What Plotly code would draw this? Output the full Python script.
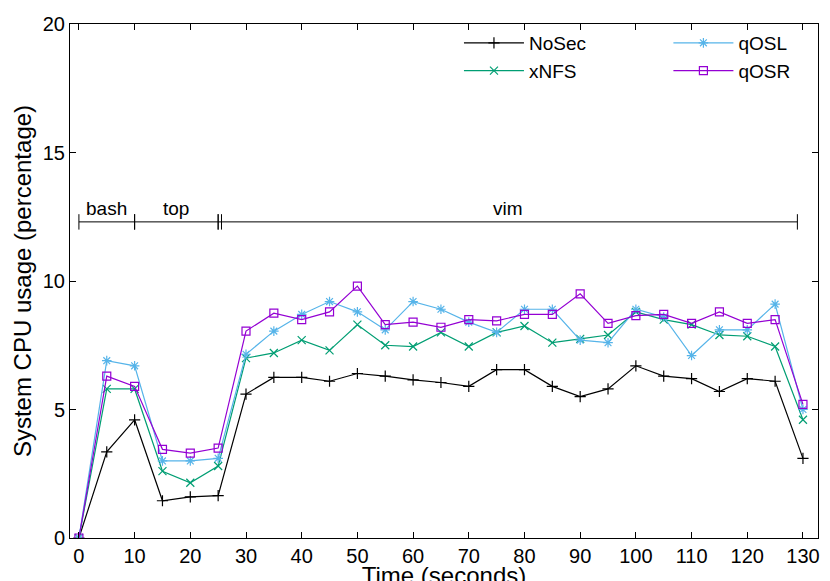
import plotly.graph_objects as go

time = list(range(0, 131, 5))
nosec = [0, 3.35, 4.6, 1.45, 1.6, 1.65, 5.6, 6.25, 6.25, 6.1, 6.4, 6.3, 6.15, 6.05, 5.9, 6.55, 6.55, 5.9, 5.5, 5.8, 6.7, 6.3, 6.2, 5.7, 6.2, 6.1, 3.1]
xnfs = [0, 5.8, 5.8, 2.6, 2.15, 2.8, 7.0, 7.2, 7.7, 7.3, 8.3, 7.5, 7.45, 8.0, 7.45, 8.0, 8.25, 7.6, 7.75, 7.9, 8.8, 8.5, 8.3, 7.9, 7.85, 7.45, 4.6]
qosl = [0, 6.9, 6.7, 3.0, 3.0, 3.1, 7.15, 8.05, 8.7, 9.2, 8.8, 8.1, 9.2, 8.9, 8.4, 8.0, 8.9, 8.9, 7.7, 7.6, 8.9, 8.6, 7.1, 8.1, 8.1, 9.1, 5.0]
qosr = [0, 6.3, 5.9, 3.45, 3.3, 3.5, 8.05, 8.75, 8.5, 8.8, 9.8, 8.3, 8.4, 8.2, 8.5, 8.45, 8.7, 8.7, 9.5, 8.35, 8.65, 8.7, 8.35, 8.8, 8.35, 8.5, 5.2]
phases = ["bash", "top", "vim"]
phase_bounds = [(0, 10), (10, 25), (25, 129)]
bracket_y = 12.3

series = [("NoSec", nosec, "black", "cross-thin-open", "legend"),
          ("xNFS", xnfs, "#009e73", "x-thin-open", "legend"),
          ("qOSL", qosl, "#56b4e9", "asterisk-open", "legend2"),
          ("qOSR", qosr, "#9400d3", "square-open", "legend2")]

fig = go.Figure()
for name, ys, col, sym, lg in series:
    fig.add_trace(go.Scatter(x=time, y=ys, name=name, mode="lines+markers", legend=lg,
                             line=dict(color=col, width=1.2),
                             marker=dict(symbol=sym, size=8, color=col, line=dict(color=col, width=1.2))))

for label, (a, b) in zip(phases, phase_bounds):
    fig.add_shape(type="line", x0=a, x1=b, y0=bracket_y, y1=bracket_y, line=dict(color="black", width=1))
    for xv in (a, b):
        fig.add_shape(type="line", x0=xv, x1=xv, y0=bracket_y - 0.3, y1=bracket_y + 0.3, line=dict(color="black", width=1))
    fig.add_annotation(x=(a + b) / 2, y=bracket_y, text=label, showarrow=False, yanchor="bottom",
                       yshift=1, font=dict(size=19))
fig.add_shape(type="line", x0=25.6, x1=25.6, y0=bracket_y - 0.3, y1=bracket_y + 0.3, line=dict(color="black", width=1))

legstyle = dict(orientation="v", yanchor="top", xanchor="left", bgcolor="rgba(0,0,0,0)",
                font=dict(size=19), tracegroupgap=0, itemwidth=60)
fig.update_layout(
    width=830, height=581, plot_bgcolor="white", paper_bgcolor="white",
    margin=dict(l=62, r=20, t=16, b=51, autoexpand=False),
    font=dict(family="Liberation Sans, Arial", size=20, color="black"),
    showlegend=True,
    legend=dict(x=0.52, y=1.0, **legstyle),
    legend2=dict(x=0.80, y=1.0, **legstyle),
    xaxis=dict(range=[-1.6, 132.7], tickvals=time[::2], automargin=False,
               title=dict(text="Time (seconds)", standoff=0),
               showgrid=False, zeroline=False, showline=True, mirror="ticks", linecolor="black",
               ticks="inside", ticklen=6, tickcolor="black"),
    yaxis=dict(range=[0, 20], tickvals=[0, 5, 10, 15, 20], automargin=False,
               title=dict(text="System CPU usage (percentage)", standoff=4),
               showgrid=False, zeroline=False, showline=True, mirror="ticks", linecolor="black",
               ticks="inside", ticklen=6, tickcolor="black"),
)
fig.write_html("out.html")
